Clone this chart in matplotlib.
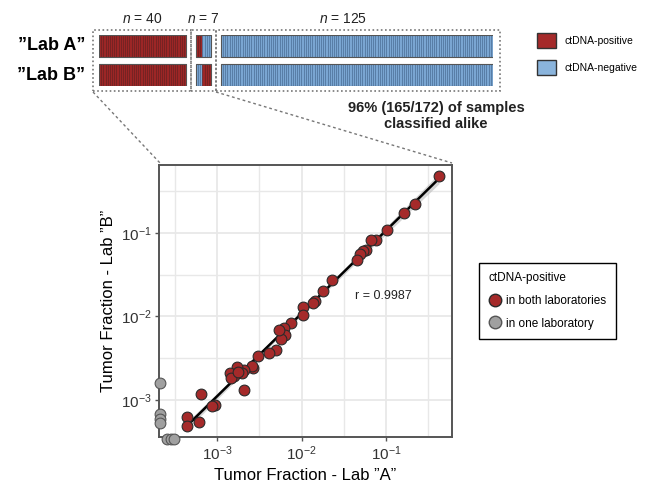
import numpy as np
import matplotlib
matplotlib.use("Agg")
import matplotlib.pyplot as plt
from matplotlib.patches import Patch, Rectangle
from matplotlib.lines import Line2D
from matplotlib.ticker import FixedLocator, NullFormatter

plt.rcParams['font.family'] = ['Liberation Sans', 'DejaVu Sans']
plt.rcParams['mathtext.fontset'] = 'custom'
plt.rcParams['mathtext.rm'] = 'Liberation Sans'
plt.rcParams['mathtext.it'] = 'Liberation Sans:italic'
plt.rcParams['axes.unicode_minus'] = False

# ---- data ----
group_sizes = [40, 7, 125]
# classification per sample (1 = ctDNA-positive, 0 = negative)
lab_a_calls = [1] * 40 + [1, 1, 1, 0, 0, 0, 0] + [0] * 125
lab_b_calls = [1] * 40 + [0, 0, 0, 1, 1, 1, 1] + [0] * 125
row_labels = ['\u201dLab A\u201d', '\u201dLab B\u201d']

# tumor fraction, positive in both labs
tf_lab_a = [0.423, 0.219, 0.165, 0.1028, 0.0767, 0.0664, 0.0583, 0.0528, 0.0486, 0.0452,
            0.0228, 0.01816, 0.01445, 0.01358, 0.01033, 0.01052, 0.0075, 0.0062, 0.00643, 0.00565,
            0.00498, 0.00415, 0.00307, 0.00268, 0.00256, 0.00207, 0.00173, 0.00158, 0.00141, 0.00148,
            0.00207, 0.000938, 0.000881, 0.00064, 0.000605, 0.000445, 0.000445, 0.00195, 0.00541, 0.00177]
tf_lab_b = [0.479, 0.223, 0.174, 0.1067, 0.0817, 0.0817, 0.0631, 0.0603, 0.0560, 0.0479,
            0.0270, 0.01995, 0.01542, 0.01445, 0.01282, 0.01047, 0.00832, 0.00724, 0.00603, 0.00535,
            0.00398, 0.00363, 0.00337, 0.0024, 0.00258, 0.00229, 0.00247, 0.00194, 0.00213, 0.00185,
            0.00132, 0.000871, 0.000847, 0.00118, 0.00055, 0.000631, 0.000488, 0.00209, 0.00692, 0.00219]
# positive in one lab only (zero in the other, shown on the axis edge)
one_lab_a = [0.000214, 0.000214, 0.000214, 0.000214, 0.000256, 0.000283, 0.00031]
one_lab_b = [0.00162, 0.000692, 0.000603, 0.000537, 0.000339, 0.000339, 0.000339]
r_text = 'r = 0.9987'

red = '#a52a2a'
blue = '#8ab4dc'
W, H = 649, 486

fig = plt.figure(figsize=(6.49, 4.86), dpi=100)

# ---- top strip ----
gap = 4.5
xpos = []
start = 0
for i, n in enumerate(group_sizes):
    xpos += [start + k + 0.5 for k in range(n)]
    start += n + gap
total = start - gap

sx0, sx1 = 99, 493
ax_s = fig.add_axes([sx0 / W, 1 - 86 / H, (sx1 - sx0) / W, 51 / H])
ax_s.set_xlim(0, total)
ax_s.set_ylim(0, 51)
ax_s.axis('off')
for calls, y0 in [(lab_a_calls, 29), (lab_b_calls, 0)]:
    cols = ['#9c2626' if c else '#7aa6d2' for c in calls]
    edges = ['#5e1414' if c else '#3f6690' for c in calls]
    ax_s.bar(xpos, 22, width=1, bottom=y0, color=cols, edgecolor=edges, linewidth=0.4)
    start = 0
    for n in group_sizes:
        ax_s.add_patch(Rectangle((start, y0), n, 22, fill=False, edgecolor='#555555', lw=0.8))
        start += n + gap

bounds = [-2.75]
start = 0
for n in group_sizes:
    start += n + gap
    bounds.append(start - gap / 2)
bounds[-1] = total + 3.4
for i, n in enumerate(group_sizes):
    ax_s.add_patch(Rectangle((bounds[i], -5), bounds[i + 1] - bounds[i], 61, fill=False,
                             edgecolor='#777777', lw=1.2, ls=(0, (1, 1.5)), clip_on=False))
    ax_s.text((bounds[i] + bounds[i + 1]) / 2 if i < 2 else 112, 60, r'$n$ = %d' % n,
              ha='center', va='bottom', fontsize=10, color='#222222')

fig.text(85 / W, 1 - 46 / H, row_labels[0], ha='right', va='center', fontsize=13, fontweight='bold')
fig.text(85 / W, 1 - 75 / H, row_labels[1], ha='right', va='center', fontsize=13, fontweight='bold')
fig.text(436 / W, 1 - 116 / H, '96% (165/172) of samples\nclassified alike', ha='center', va='center',
         fontsize=10.5, fontweight='bold', linespacing=1.15, color='#222222')

fig.legend(handles=[Patch(facecolor=red, edgecolor='#333333', lw=1),
                    Patch(facecolor=blue, edgecolor='#333333', lw=1)],
           labels=['ctDNA-positive', 'ctDNA-negative'], loc='upper left',
           bbox_to_anchor=(537 / W, 1 - 33 / H), frameon=False, fontsize=7.5,
           handlelength=1.8, handleheight=1.8, handletextpad=0.8, labelspacing=1.2,
           borderpad=0, borderaxespad=0)

# ---- scatter ----
ax = fig.add_axes([159 / W, 1 - 437 / H, 293 / W, 272 / H])
ax.set_xscale('log')
ax.set_yscale('log')
ax.set_xlim(10 ** -3.686, 10 ** -0.22)
ax.set_ylim(10 ** -3.44, 10 ** -0.19)

lx = np.log10(tf_lab_a)
ly = np.log10(tf_lab_b)
slope, icpt = np.polyfit(lx, ly, 1)
xs = np.linspace(lx.min(), lx.max(), 100)
ys = slope * xs + icpt
res = ly - (slope * lx + icpt)
s = np.sqrt(np.sum(res ** 2) / (len(lx) - 2))
se = s * np.sqrt(1 / len(lx) + (xs - lx.mean()) ** 2 / np.sum((lx - lx.mean()) ** 2))
ax.fill_between(10 ** xs, 10 ** (ys - 2.02 * se), 10 ** (ys + 2.02 * se), color='#bbbbbb', alpha=0.6, lw=0, zorder=2)
ax.plot(10 ** xs, 10 ** ys, color='black', lw=1.8, zorder=3)

ax.scatter(tf_lab_a, tf_lab_b, s=60, color=red, edgecolor='#2a2a2a', lw=0.8, zorder=4)
ax.scatter(one_lab_a, one_lab_b, s=60, color='#a0a0a0', edgecolor='#555555', lw=0.8, zorder=5, clip_on=False)

ax.text(10 ** -1.364, 10 ** -1.76, r_text, ha='left', va='center', fontsize=9, color='#222222')

ax.xaxis.set_major_locator(FixedLocator([1e-3, 1e-2, 1e-1]))
ax.yaxis.set_major_locator(FixedLocator([1e-3, 1e-2, 1e-1]))
half = [10 ** -3.5, 10 ** -2.5, 10 ** -1.5, 10 ** -0.5]
ax.xaxis.set_minor_locator(FixedLocator(half))
ax.yaxis.set_minor_locator(FixedLocator(half))
ax.xaxis.set_minor_formatter(NullFormatter())
ax.yaxis.set_minor_formatter(NullFormatter())
ax.grid(which='major', color='#e8e8e8', lw=1.3)
ax.grid(which='minor', color='#e8e8e8', lw=1.0)
ax.set_axisbelow(True)
ax.tick_params(which='major', length=3, width=1, color='#555555', labelsize=11, labelcolor='#333333', pad=2)
ax.tick_params(which='minor', length=0)
for sp in ax.spines.values():
    sp.set_color('#555555')
    sp.set_linewidth(1.4)

ax.set_xlabel('Tumor Fraction - Lab \u201dA\u201d', fontsize=12, labelpad=4)
ax.set_ylabel('Tumor Fraction - Lab \u201dB\u201d', fontsize=12, labelpad=4)

ax.legend(handles=[Line2D([], [], ls='', marker='o', ms=9, mfc=red, mec='#2a2a2a'),
                   Line2D([], [], ls='', marker='o', ms=9, mfc='#a0a0a0', mec='#555555')],
          labels=['in both laboratories', 'in one laboratory'], title='ctDNA-positive',
          loc='upper left', bbox_to_anchor=(473 / W, 1 - 257 / H), bbox_transform=fig.transFigure,
          fontsize=8.5, title_fontsize=8.5, alignment='left', fancybox=False, edgecolor='black',
          framealpha=1, handletextpad=0.3, handlelength=1.2, borderpad=0.8, labelspacing=0.9)

# zoom lines from strip to scatter
fig.add_artist(Line2D([93 / W, 160 / W], [1 - 92 / H, 1 - 163 / H], color='#777777', lw=1.0, ls=(0, (2, 2))))
fig.add_artist(Line2D([216 / W, 452 / W], [1 - 92 / H, 1 - 163 / H], color='#777777', lw=1.0, ls=(0, (2, 2))))

fig.savefig('out.png', dpi=100)
